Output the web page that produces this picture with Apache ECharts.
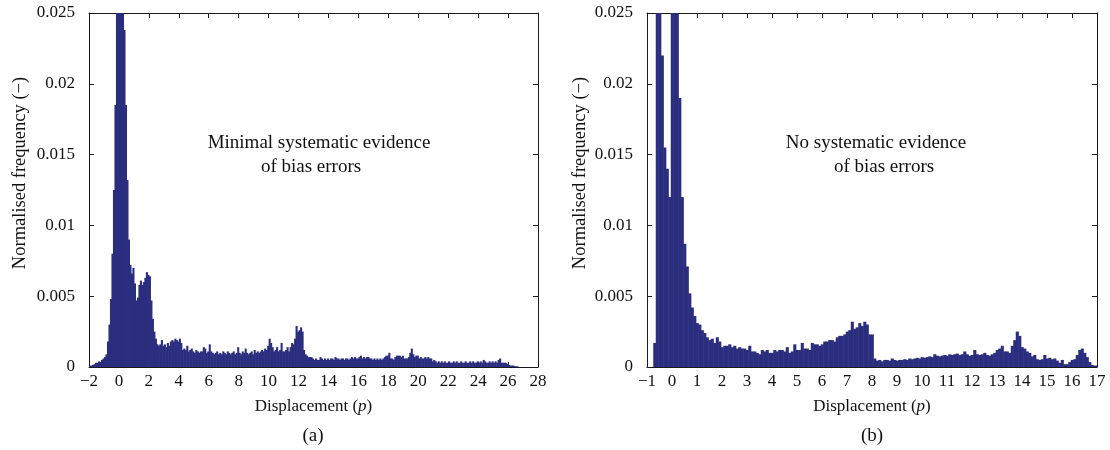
<!DOCTYPE html>
<html>
<head>
<meta charset="utf-8">
<script src="https://cdn.jsdelivr.net/npm/echarts@6/dist/echarts.min.js"></script>
<style>
  html, body { margin: 0; padding: 0; background: #fff; }
  #chart { width: 1110px; height: 450px; }
</style>
</head>
<body>
<div id="chart"></div>
<script>
// histogram (a): bins of 0.1 starting at -2, values in units of 1e-3
const binStartA = -2
const binWidthA = 0.1
const freqA = [
  0.1, 0.1, 0.15, 0.2, 0.3, 0.3, 0.4, 0.35, 0.5, 0.6,
  0.7, 0.9, 1.8, 3.0, 4.8, 8.0, 12.5, 18.5, 25.5, 31,
  36, 33, 27, 23.8, 18.5, 13.2, 9.0, 7.2, 6.6, 7.0,
  5.9, 4.7, 4.9, 5.8, 6.1, 5.8, 6.0, 6.3, 6.7, 6.5,
  6.4, 4.7, 3.4, 2.5, 2.0, 1.6, 1.5, 1.6, 1.9, 1.5,
  1.6, 1.4, 1.7, 1.5, 1.8, 1.9, 1.8, 2.0, 1.9, 1.8,
  2.0, 1.7, 1.2, 1.3, 1.2, 1.5, 1.1, 1.2, 1.3, 1.1,
  1.0, 1.2, 1.1, 1.0, 1.1, 1.1, 1.4, 1.3, 1.0, 1.1,
  1.6, 1.1, 1.0, 0.9, 1.0, 1.1, 0.9, 1.0, 0.9, 1.1,
  1.0, 0.9, 1.1, 1.0, 0.9, 1.0, 1.1, 0.9, 1.0, 1.4,
  1.0, 0.9, 1.1, 1.0, 1.3, 1.0, 0.9, 1.0, 1.1, 0.9,
  1.2, 1.0, 1.1, 1.0, 1.1, 1.2, 1.1, 1.3, 1.2, 1.5,
  2.0, 1.7, 1.4, 1.1, 1.2, 1.4, 1.1, 1.2, 1.7, 1.1,
  1.1, 1.2, 1.4, 1.1, 1.4, 1.7, 1.6, 2.0, 2.9, 2.5,
  2.6, 2.8, 2.5, 1.2, 0.9, 0.8, 0.7, 0.7, 0.7, 0.6,
  0.5, 0.6, 0.5, 0.5, 0.7, 0.6, 0.5, 0.6, 0.5, 0.6,
  0.5, 0.6, 0.6, 0.5, 0.7, 0.6, 0.6, 0.5, 0.6, 0.6,
  0.5, 0.6, 0.6, 0.5, 0.6, 0.7, 0.6, 0.7, 0.6, 0.6,
  0.7, 0.8, 0.6, 0.7, 0.6, 0.7, 0.7, 0.6, 0.6, 0.5,
  0.6, 0.5, 0.6, 0.5, 0.6, 0.5, 0.6, 0.7, 0.8, 0.8,
  1.0, 0.6, 0.6, 0.5, 0.7, 0.8, 0.8, 0.8, 0.7, 0.8,
  0.6, 0.6, 0.6, 0.7, 1.0, 1.3, 0.9, 0.7, 0.8, 0.8,
  0.6, 0.7, 0.6, 0.6, 0.7, 0.6, 0.7, 0.6, 0.6, 0.4,
  0.5, 0.4, 0.3, 0.4, 0.3, 0.4, 0.3, 0.4, 0.3, 0.3,
  0.4, 0.3, 0.3, 0.4, 0.3, 0.4, 0.3, 0.3, 0.4, 0.3,
  0.3, 0.4, 0.3, 0.3, 0.4, 0.3, 0.4, 0.3, 0.3, 0.4,
  0.3, 0.4, 0.3, 0.5, 0.4, 0.3, 0.3, 0.4, 0.3, 0.4,
  0.3, 0.4, 0.3, 0.5, 0.6, 0.3, 0.3, 0.3, 0.3, 0.2,
  0.15, 0.1, 0.1, 0.1, 0.05, 0.05, 0.03
]

// histogram (b): bins of 0.1 starting at -0.75, values in units of 1e-3
const binStartB = -0.75
const binWidthB = 0.1
const freqB = [
  1.7, 27, 32, 22, 15.5, 14, 12, 27, 34, 30,
  19, 12, 8.7, 7.1, 5.2, 4.2, 3.6, 3.1, 3.0, 2.6,
  2.4, 2.1, 1.9, 2.0, 1.7, 2.1, 1.8, 1.4, 1.5, 1.5,
  1.6, 1.4, 1.5, 1.3, 1.4, 1.3, 1.3, 1.2, 1.5, 1.1,
  1.1, 1.0, 0.9, 1.2, 1.1, 1.2, 1.0, 1.0, 1.2, 1.1,
  1.2, 1.2, 1.1, 1.4, 1.0, 1.1, 1.6, 1.2, 1.2, 1.7,
  1.3, 1.3, 1.2, 1.7, 1.6, 1.6, 1.5, 1.6, 1.8, 1.8,
  1.9, 1.9, 1.8, 2.1, 2.2, 2.2, 2.3, 2.5, 2.6, 3.2,
  2.7, 2.8, 3.1, 2.9, 3.2, 3.0, 2.3, 2.3, 0.6, 0.45,
  0.5, 0.4, 0.5, 0.5, 0.45, 0.6, 0.5, 0.45, 0.5, 0.5,
  0.55, 0.5, 0.6, 0.55, 0.6, 0.65, 0.6, 0.7, 0.65, 0.7,
  0.75, 0.7, 0.9, 0.8, 0.75, 0.8, 0.85, 0.8, 0.9, 0.85,
  0.9, 0.95, 0.85, 0.9, 1.1, 0.9, 0.8, 0.85, 1.2, 0.9,
  0.85, 0.9, 1.0, 0.85, 0.8, 0.9, 1.0, 1.2, 1.3, 1.5,
  1.1, 1.1, 1.0, 1.5, 1.9, 2.5, 2.2, 1.4, 1.3, 1.1,
  1.0, 0.75, 0.85, 0.55, 0.5, 0.55, 0.85, 0.6, 0.65, 0.55,
  0.6, 0.45, 0.3, 0.5, 0.2, 0.2, 0.35, 0.5, 0.55, 0.85,
  1.2, 1.3, 1.0, 0.7, 0.35, 0.15, 0.1, 0.1
]

const xTicksA = { min: -2, max: 28, interval: 2 }
const xTicksB = { min: -1, max: 17, interval: 1 }
const yTicks = { min: 0, max: 0.025, interval: 0.005 }

const barColor = '#2b2e7e'
const axisColor = '#1a1a1a'
const textColor = '#111'
const font = '"Liberation Serif", "DejaVu Serif", serif'

function toBins(freq, start, width) {
  return freq.map((v, i) => {
    const x0 = Math.round((start + i * width) * 100) / 100
    const x1 = Math.round((start + (i + 1) * width) * 100) / 100
    return [x0, x1, v / 1000]
  })
}

// draw one histogram bin, a touch wider so neighbours overlap (no seams)
function renderBin(params, api) {
  const p0 = api.coord([api.value(0), 0])
  const p1 = api.coord([api.value(1), api.value(2)])
  const shape = echarts.graphic.clipRectByRect(
    { x: p0[0], y: p1[1], width: p1[0] - p0[0] + 0.6, height: p0[1] - p1[1] },
    { x: params.coordSys.x, y: params.coordSys.y, width: params.coordSys.width, height: params.coordSys.height }
  )
  return shape && {
    type: 'rect',
    shape,
    style: { fill: barColor }
  }
}

function fmtX(v) {
  return v < 0 ? '\u2212' + Math.abs(v) : String(v)
}

function fmtY(v) {
  return v === 0 ? '0' : String(+v.toFixed(3))
}

function xAxes(gridIndex, ticks) {
  const common = {
    type: 'value',
    gridIndex,
    min: ticks.min,
    max: ticks.max,
    interval: ticks.interval,
    splitLine: { show: false },
    axisLine: { onZero: false, lineStyle: { color: axisColor, width: 1 } },
    axisTick: { inside: true, length: 5, lineStyle: { color: axisColor } }
  }
  return [
    {
      ...common,
      position: 'bottom',
      axisLabel: { color: textColor, fontFamily: font, fontSize: 17, margin: 6, formatter: fmtX },
      name: 'Displacement ({i|p})',
      nameLocation: 'middle',
      nameGap: 31,
      nameTextStyle: {
        color: textColor, fontFamily: font, fontSize: 17,
        rich: { i: { fontStyle: 'italic', fontFamily: font, fontSize: 17, color: textColor } }
      }
    },
    { ...common, position: 'top', axisLabel: { show: false } }
  ]
}

function yAxes(gridIndex, nameGap) {
  const common = {
    type: 'value',
    gridIndex,
    min: yTicks.min,
    max: yTicks.max,
    interval: yTicks.interval,
    splitLine: { show: false },
    axisLine: { onZero: false, lineStyle: { color: axisColor, width: 1 } },
    axisTick: { inside: true, length: 5, lineStyle: { color: axisColor } }
  }
  return [
    {
      ...common,
      position: 'left',
      axisLabel: { color: textColor, fontFamily: font, fontSize: 17, margin: 14, formatter: fmtY },
      name: 'Normalised frequency (\u2212)',
      nameLocation: 'middle',
      nameGap,
      // the name sits a bit above the middle of the axis in the original
      nameTextStyle: { color: textColor, fontFamily: font, fontSize: 18.5, padding: [0, 0, 0, 34] }
    },
    { ...common, position: 'right', axisLabel: { show: false } }
  ]
}

function note(x, y, text, size) {
  return {
    type: 'text', x, y,
    style: { text, fill: textColor, font: size + 'px ' + font, textAlign: 'center', textVerticalAlign: 'middle' }
  }
}

const chart = echarts.init(document.getElementById('chart'))

chart.setOption({
  animation: false,
  grid: [
    { left: 89, top: 13, width: 449, height: 354 },
    { left: 647, top: 13, width: 450, height: 354 }
  ],
  xAxis: [...xAxes(0, xTicksA), ...xAxes(1, xTicksB)],
  yAxis: [...yAxes(0, 59), ...yAxes(1, 57)],
  series: [
    {
      type: 'custom',
      coordinateSystem: 'cartesian2d',
      xAxisIndex: 0,
      yAxisIndex: 0,
      renderItem: renderBin,
      data: toBins(freqA, binStartA, binWidthA)
    },
    {
      type: 'custom',
      coordinateSystem: 'cartesian2d',
      xAxisIndex: 2,
      yAxisIndex: 2,
      renderItem: renderBin,
      data: toBins(freqB, binStartB, binWidthB)
    }
  ],
  graphic: [
    note(319, 143, 'Minimal systematic evidence', 19),
    note(311, 167, 'of bias errors', 19),
    note(876, 143, 'No systematic evidence', 19),
    note(884, 167, 'of bias errors', 19),
    note(313, 436, '(a)', 19),
    note(872, 436, '(b)', 19)
  ]
})
</script>
</body>
</html>
